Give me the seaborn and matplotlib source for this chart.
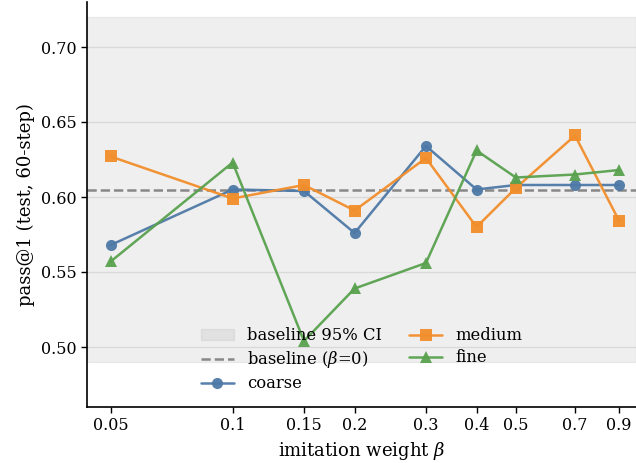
import matplotlib
matplotlib.use("Agg")
import matplotlib.pyplot as plt
import matplotlib.ticker as mticker
import seaborn as sns
import pandas as pd

betas = [0.05, 0.1, 0.15, 0.2, 0.3, 0.4, 0.5, 0.7, 0.9]
beta_labels = ["0.05", "0.1", "0.15", "0.2", "0.3", "0.4", "0.5", "0.7", "0.9"]
coarse = [0.568, 0.605, 0.604, 0.576, 0.634, 0.605, 0.608, 0.608, 0.608]
medium = [0.627, 0.599, 0.608, 0.591, 0.626, 0.580, 0.606, 0.641, 0.584]
fine = [0.557, 0.623, 0.504, 0.539, 0.556, 0.631, 0.613, 0.615, 0.618]
baseline = 0.605
ci_low, ci_high = 0.49, 0.72
y_ticks = [0.50, 0.55, 0.60, 0.65, 0.70]

sns.set_theme(style="ticks")
plt.rcParams["font.family"] = ["DejaVu Serif"]
plt.rcParams["mathtext.fontset"] = "dejavuserif"
plt.rcParams["text.color"] = "black"
plt.rcParams["axes.labelcolor"] = "black"
plt.rcParams["xtick.color"] = "black"
plt.rcParams["ytick.color"] = "black"

fig = plt.figure(figsize=(6.36, 4.63), dpi=100)
ax = fig.add_axes([87/636, 1-407/463, 1-87/636, (407-2)/463])

ax.yaxis.grid(True, color="#e6e6e6", linewidth=1.0, zorder=0)
ax.set_axisbelow(True)
ax.axhspan(ci_low, ci_high, color="gray", alpha=0.12, label="baseline 95% CI", zorder=1)
ax.axhline(baseline, color="#888888", linestyle="--", linewidth=1.8, label=r"baseline ($\beta$=0)", zorder=2)

series = [("coarse", coarse, "#4e79a7", "o"),
          ("medium", medium, "#f28e2b", "s"),
          ("fine", fine, "#59a14f", "^")]
for name, vals, col, mk in series:
    df = pd.DataFrame({"beta": betas, "val": vals})
    sns.lineplot(data=df, x="beta", y="val", ax=ax, color=col, marker=mk, alpha=0.95,
                 markersize=8, linewidth=1.8, markeredgewidth=0, label=name, zorder=3)

ax.set_xscale("log")
ax.xaxis.set_major_locator(mticker.FixedLocator(betas))
ax.xaxis.set_major_formatter(mticker.FixedFormatter(beta_labels))
ax.xaxis.set_minor_locator(mticker.NullLocator())
ax.set_xlim(0.0437, 0.99)
ax.set_ylim(0.46, 0.73)
ax.set_yticks(y_ticks)
ax.yaxis.set_major_formatter(mticker.FormatStrFormatter("%.2f"))
ax.tick_params(labelsize=11.5, length=4, width=1, color="black", labelcolor="black")
ax.set_xlabel(r"imitation weight $\beta$", fontsize=13)
ax.set_ylabel("pass@1 (test, 60-step)", fontsize=13)
for s in ["top", "right"]:
    ax.spines[s].set_visible(False)
for s in ["left", "bottom"]:
    ax.spines[s].set_color("black")
    ax.spines[s].set_linewidth(1.2)

h, l = ax.get_legend_handles_labels()
ax.legend(h, l, ncol=2, loc="lower center", frameon=False, fontsize=11.8,
          bbox_to_anchor=(0.5, 0.0), columnspacing=1.7, handlelength=2.0,
          handletextpad=0.8, labelspacing=0.3)

fig.savefig("out.png", dpi=100)
